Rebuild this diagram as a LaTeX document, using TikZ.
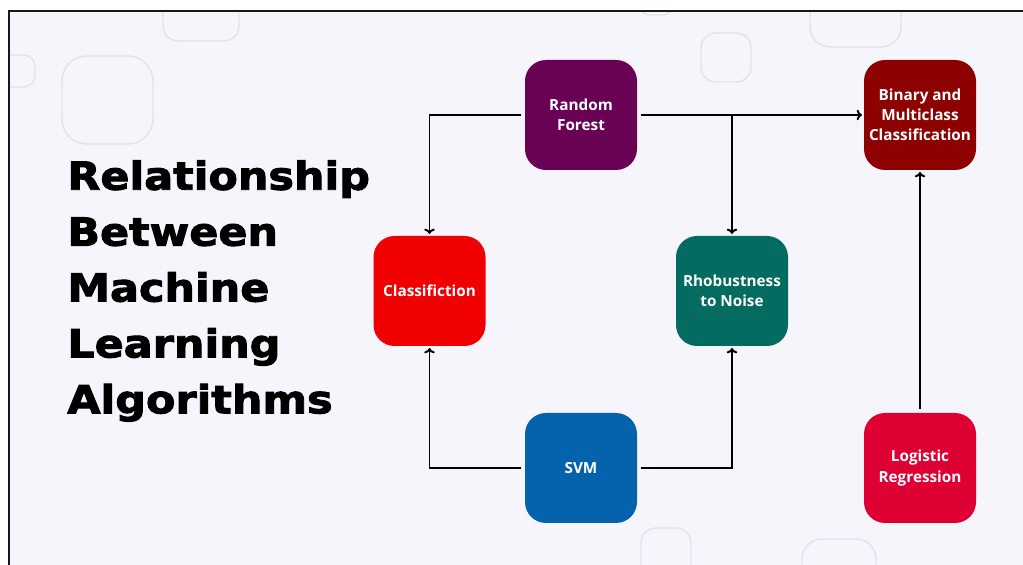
\documentclass[tikz,border=0pt]{standalone}
\usepackage{fontspec}
\usepackage{tikz}
\usetikzlibrary{positioning,arrows.meta}
\newfontfamily\titlefont[FakeStretch=1.11,FakeBold=2.5]{DejaVu Sans}
\newfontfamily\boxfont{Open Sans}
\definecolor{bgcol}{HTML}{F6F5FC}
\definecolor{decopink}{HTML}{EBDDE8}
\definecolor{decoblue}{HTML}{DDE4EF}
\definecolor{rfcol}{HTML}{690255}
\definecolor{bincol}{HTML}{8E0101}
\definecolor{clscol}{HTML}{F00000}
\definecolor{rhocol}{HTML}{036B5F}
\definecolor{svmcol}{HTML}{0563AE}
\definecolor{logcol}{HTML}{DF0033}
\tikzset{
    algo/.style={rectangle, rounded corners=0.42cm, minimum width=2.24cm, minimum height=2.2cm, inner sep=0pt,
        text=white, align=center, font=\boxfont\bfseries\fontsize{8.7}{11.5}\selectfont},
    line/.style={-{To[length=3pt,width=6pt]}, line width=1.1pt, shorten >=1pt, shorten <=2pt},
    deco/.style={line width=0.8pt, rounded corners=0.3cm},
}

\begin{document}
\begin{tikzpicture}
        [node distance=3.52cm and 3.03cm, on grid]

        \useasboundingbox (0,0) rectangle (20.46,-11.3);
        \fill[white] (0,0) rectangle (20.46,-11.3);
        \fill[bgcol] (0.18,-0.22) rectangle (20.46,-11.3);

        % faint squares in the background
        \begin{scope}
            \clip (0.18,-0.22) rectangle (20.46,-11.3);
            \draw[deco, decopink] (3.26,0.4) rectangle (4.78,-0.82);
            \draw[deco, decopink, rounded corners=0.22cm] (-0.4,-1.10) rectangle (0.70,-1.74);
            \draw[deco, decopink, rounded corners=0.5cm] (1.24,-1.12) rectangle (3.06,-2.88);
            \draw[deco, decopink, rounded corners=0.2cm] (12.8,0.4) rectangle (13.46,-0.30);
            \draw[deco, decopink] (14.02,-0.66) rectangle (15.02,-1.64);
            \draw[deco, decopink, rounded corners=0.4cm] (16.2,0.6) rectangle (18.02,-0.94);
            \draw[deco, decoblue] (12.82,-10.56) rectangle (13.82,-12);
            \draw[deco, decoblue, rounded corners=0.4cm] (16.04,-10.78) rectangle (17.52,-12);
        \end{scope}

        \draw[line width=1.1pt, black!90] (20.46,-0.22) -- (0.18,-0.22) -- (0.18,-11.3);

        \node[anchor=west, inner sep=0pt, align=left, font=\titlefont\bfseries\fontsize{22}{31.8}\selectfont]
            (title) at (1.34,-5.82) {Relationship\\Between\\Machine\\Learning\\Algorithms};

        \node[algo, fill=rfcol] (rf) at (11.62,-2.30) {Random\\Forest};
        \node[algo, fill=bincol, right=6.78cm of rf] (bin) {Binary and\\Multiclass\\Classification};
        \node[algo, fill=clscol, below left=of rf] (cls) {Classifiction};
        \node[algo, fill=rhocol, below right=3.52cm and 3.02cm of rf] (rho) {Rhobustness\\to Noise};
        \node[algo, fill=svmcol, below=7.06cm of rf] (svm) {SVM};
        \node[algo, fill=logcol, below=7.06cm of bin] (log) {Logistic\\Regression};

        \coordinate (split) at (rho.north |- rf.east);

        \draw[line] (rf.west) -| (cls.north);
        \draw[line] (rf.east) -- (bin.west);
        \draw[line, shorten <=0pt] (split) -- (rho.north);
        \draw[line] (svm.west) -| (cls.south);
        \draw[line] (svm.east) -| (rho.south);
        \draw[line] (log.north) -- (bin.south);

    \end{tikzpicture}
\end{document}
